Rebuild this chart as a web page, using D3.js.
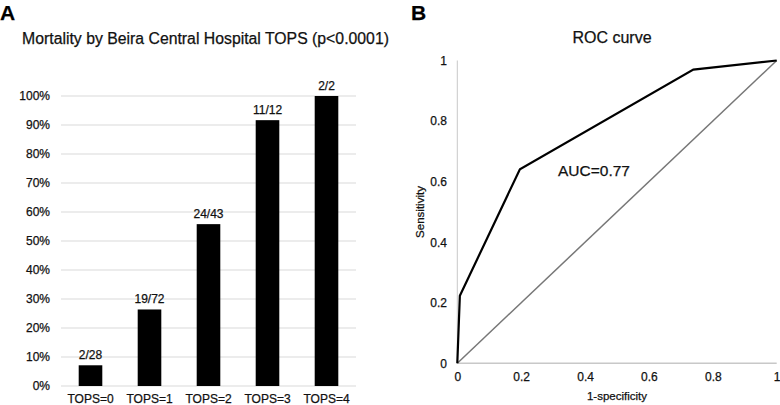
<!DOCTYPE html>
<html><head><meta charset="utf-8">
<script src="https://cdn.jsdelivr.net/npm/d3@7"></script>
<style>body{margin:0;background:#fff}svg{display:block;font-family:"Liberation Sans",Arial,Helvetica,sans-serif}
text{paint-order:stroke;stroke:#111;stroke-width:0.25px}</style>
</head><body>
<svg id="c" width="780" height="405"></svg>
<script>
// Panel A data
const categories = ["TOPS=0","TOPS=1","TOPS=2","TOPS=3","TOPS=4"];
const deaths = [2,19,24,11,2];
const totals = [28,72,43,12,2];
const yTicksA = [0,0.1,0.2,0.3,0.4,0.5,0.6,0.7,0.8,0.9,1.0];
// Panel B data
const fpr = [0, 0.008, 0.196, 0.739, 1];
const tpr = [0, 0.223, 0.641, 0.970, 1];
const rocTicks = [0,0.2,0.4,0.6,0.8,1];
const aucLabel = "AUC=0.77";

const svg = d3.select("#c");

// ---- Panel A ----
const xA = d3.scaleBand().domain(categories).range([61,356]).paddingInner(0.6).paddingOuter(0.3);
const yA = d3.scaleLinear().domain([0,1]).range([386,96]);
const gA = svg.append("g");
gA.append("text").attr("x",0).attr("y",20).attr("font-size",21).attr("font-weight","bold").text("A");
gA.append("text").attr("x",205.5).attr("y",44).attr("text-anchor","middle").attr("font-size",15.8).attr("fill","#111")
  .text("Mortality by Beira Central Hospital TOPS (p<0.0001)");
gA.selectAll("line.grid").data(yTicksA).join("line").attr("class","grid")
  .attr("x1",61).attr("x2",356).attr("y1",d=>yA(d)).attr("y2",d=>yA(d))
  .attr("stroke","#d9d9d9").attr("stroke-width",1);
const axA = d3.axisLeft(yA).tickValues(yTicksA).tickFormat(d3.format(".0%")).tickSize(0).tickPadding(0);
const ga = gA.append("g").attr("transform","translate(50,0)").call(axA);
ga.select(".domain").remove();
ga.selectAll("text").attr("font-size",12).attr("fill","#111").attr("font-family","Liberation Sans, Arial, sans-serif");
const rows = categories.map((c,i)=>({c, v:deaths[i]/totals[i], lab:deaths[i]+"/"+totals[i]}));
gA.selectAll("rect.bar").data(rows).join("rect").attr("class","bar")
  .attr("x",d=>xA(d.c)).attr("width",xA.bandwidth()).attr("y",d=>yA(d.v)).attr("height",d=>yA(0)-yA(d.v)).attr("fill","#000");
gA.selectAll("text.vl").data(rows).join("text").attr("class","vl")
  .attr("x",d=>xA(d.c)+xA.bandwidth()/2).attr("y",d=>yA(d.v)-6).attr("text-anchor","middle")
  .attr("font-size",12).attr("fill","#111").text(d=>d.lab);
const axAx = d3.axisBottom(xA).tickSize(0).tickPadding(0);
const gx = gA.append("g").attr("transform","translate(0,402.5)").call(axAx);
gx.select(".domain").remove();
gx.selectAll("text").attr("font-size",12).attr("fill","#111").attr("y",0).attr("dy","0").attr("font-family","Liberation Sans, Arial, sans-serif");

// ---- Panel B ----
const xB = d3.scaleLinear().domain([0,1]).range([457.3,776.7]);
const yB = d3.scaleLinear().domain([0,1]).range([363.3,60.5]);
const gB = svg.append("g");
gB.append("text").attr("x",411).attr("y",20).attr("font-size",21).attr("font-weight","bold").text("B");
gB.append("text").attr("x",612).attr("y",43).attr("text-anchor","middle").attr("font-size",16).attr("fill","#111").text("ROC curve");
gB.append("line").attr("x1",xB(0)).attr("x2",xB(0)).attr("y1",yB(0)).attr("y2",yB(1)).attr("stroke","#c8c8c8").attr("stroke-width",1);
gB.append("line").attr("x1",xB(0)).attr("x2",xB(1)).attr("y1",yB(0)).attr("y2",yB(0)).attr("stroke","#c8c8c8").attr("stroke-width",1.5);
const gy = gB.append("g").attr("transform","translate(447,0)").call(d3.axisLeft(yB).tickValues(rocTicks).tickFormat(d=>String(d)).tickSize(0).tickPadding(0));
gy.select(".domain").remove();
gy.selectAll("text").attr("font-size",12).attr("fill","#111").attr("font-family","Liberation Sans, Arial, sans-serif");
const gxb = gB.append("g").attr("transform","translate(0,372)").call(d3.axisBottom(xB).tickValues(rocTicks).tickFormat(d=>String(d)).tickSize(0).tickPadding(0));
gxb.select(".domain").remove();
gxb.selectAll("text").attr("font-size",12).attr("fill","#111").attr("dy","0.75em").attr("font-family","Liberation Sans, Arial, sans-serif");
gB.append("text").attr("x",617).attr("y",400).attr("text-anchor","middle").attr("font-size",11.5).attr("fill","#111").text("1-specificity");
gB.append("text").attr("transform","translate(424,212) rotate(-90)").attr("text-anchor","middle").attr("font-size",11.5).attr("fill","#111").text("Sensitivity");
gB.append("line").attr("x1",xB(0)).attr("y1",yB(0)).attr("x2",xB(1)).attr("y2",yB(1)).attr("stroke","#777").attr("stroke-width",1.5);
const line = d3.line().x(d=>xB(d[0])).y(d=>yB(d[1]));
gB.append("path").datum(fpr.map((f,i)=>[f,tpr[i]])).attr("d",line).attr("fill","none").attr("stroke","#000").attr("stroke-width",2.2).attr("stroke-linejoin","miter");
gB.append("text").attr("x",558).attr("y",176).attr("font-size",15.5).attr("fill","#111").text(aucLabel);
</script>
</body></html>
